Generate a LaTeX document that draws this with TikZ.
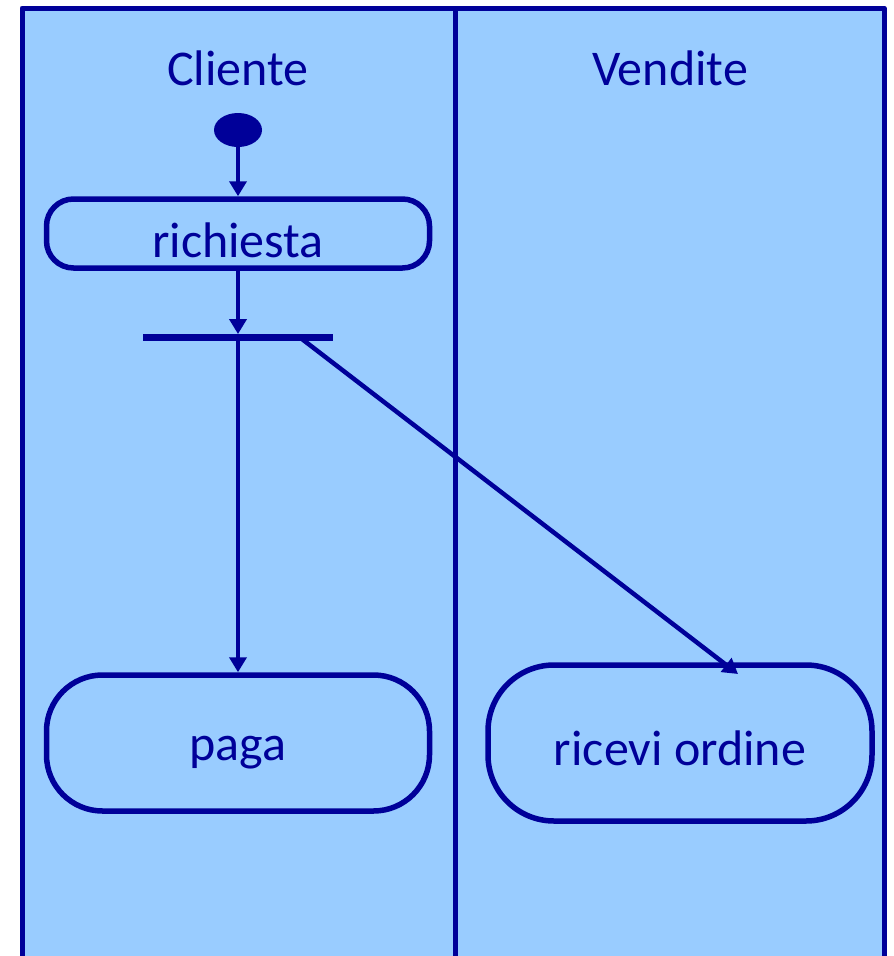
\documentclass[tikz,border=0pt]{standalone}
\usepackage{fontspec}
\setmainfont{Carlito}
\usepackage{tikz}
\usetikzlibrary{arrows.meta,shapes.geometric,calc}

\definecolor{lanefill}{HTML}{99CCFF}
\definecolor{umlblue}{HTML}{000099}

\begin{document}
\begin{tikzpicture}[x=1pt, y=-1pt,
    every node/.style={text=umlblue, font=\fontsize{50}{60}\selectfont},
    action/.style={draw=umlblue, line width=5.5pt, rectangle, inner sep=0pt,
      minimum width=383pt, text depth=0pt},
    flow/.style={draw=umlblue, line width=4.5pt, -{Triangle[width=17pt,length=15pt]}}
  ]
    \useasboundingbox (0,0) rectangle (894,956);

    \fill[lanefill] (22,8) rectangle (884,960);
    \draw[umlblue, line width=5pt, line join=round] (22,960) -- (22,8) -- (884,8) -- (884,960);
    \draw[umlblue, line width=5pt] (455,8) -- (455,960);

    \node[anchor=base] (cliente) at (238,85) {Cliente};
    \node[anchor=base] (vendite) at (670,85) {Vendite};

    \node[ellipse, fill=umlblue, minimum width=48pt, minimum height=34pt, inner sep=0pt] (start) at (238,130) {};
    \node[action, minimum height=69pt, rounded corners=27pt, text height=48pt] (richiesta) at (238,233.5) {richiesta};
    \node[rectangle, fill=umlblue, minimum width=190pt, minimum height=6.5pt, inner sep=0pt] (fork) at (238,337.5) {};
    \node[action, minimum height=136pt, rounded corners=56pt, text height=35pt] (paga) at (238,743) {paga};
    \node[action, minimum height=156pt, minimum width=384pt, rounded corners=66pt, text height=44pt] (ricevi) at (680,743) {ricevi ordine};

    \coordinate (forkout) at (300,337.5);
    \coordinate (riceviin) at (738,674);

    \draw[flow] (start.south) -- (richiesta.north);
    \draw[flow] (richiesta.south) -- (fork.north);
    \draw[flow] (fork.center) -- (paga.north);
    \draw[flow] (forkout) -- (riceviin);

  \end{tikzpicture}
\end{document}
